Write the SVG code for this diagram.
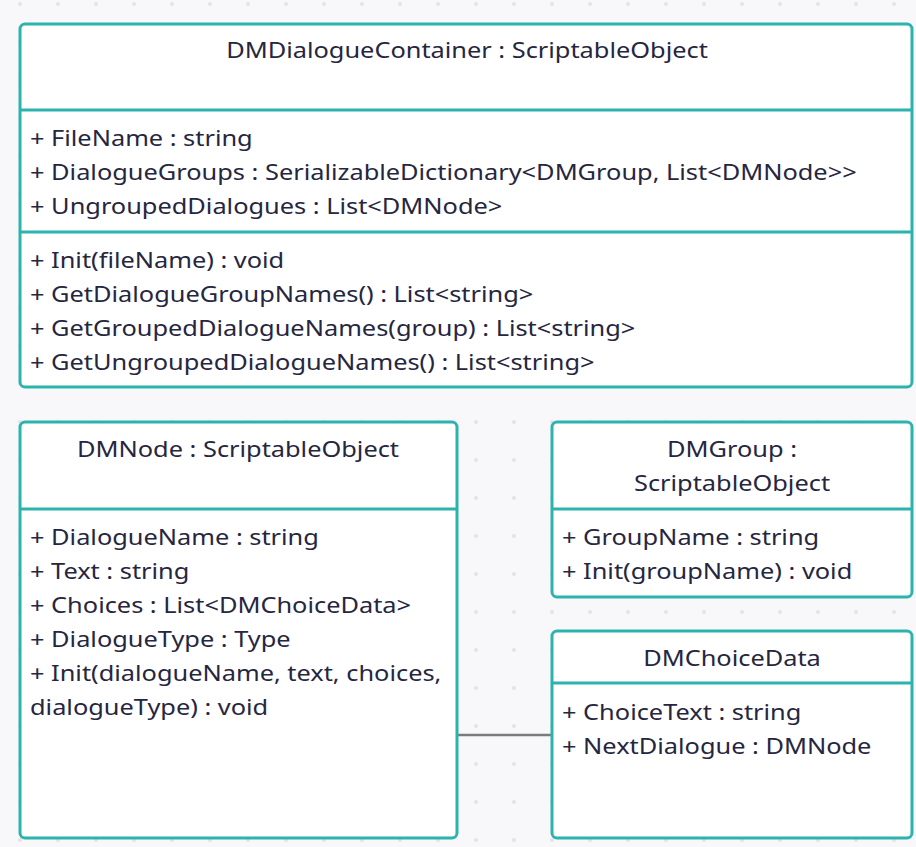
<svg xmlns="http://www.w3.org/2000/svg" width="916" height="847" viewBox="0 0 916 847">
  <style>
    .box { fill: #ffffff; stroke: #2db3ad; stroke-width: 3; }
    .sep { stroke: #2db3ad; stroke-width: 3; }
    .t { font-family: "Noto Sans", "Open Sans", sans-serif; font-size: 21.5px; fill: #26263f; }
    .c { text-anchor: middle; }
    .link { stroke: #7b7b7b; stroke-width: 2.5; fill: none; }
  </style>
  <defs>
    <pattern id="dots" x="20" y="4" width="38" height="38" patternUnits="userSpaceOnUse">
      <circle cx="0" cy="0" r="2" fill="#e3e3e8"/>
      <circle cx="38" cy="0" r="2" fill="#e3e3e8"/>
      <circle cx="0" cy="38" r="2" fill="#e3e3e8"/>
      <circle cx="38" cy="38" r="2" fill="#e3e3e8"/>
    </pattern>
  </defs>

  <!-- canvas -->
  <rect x="0" y="0" width="916" height="847" fill="#f8f8fa"/>
  <rect x="0" y="0" width="916" height="847" fill="url(#dots)"/>

  <!-- connectors -->
  <g id="connectors">
    <line class="link" x1="457" y1="735" x2="552" y2="735"/>
  </g>

  <!-- DMDialogueContainer (labels use a wide 1.18 horizontal scale) -->
  <g id="DMDialogueContainer">
    <rect class="box" x="20" y="24" width="892" height="363" rx="5"/>
    <line class="sep" x1="20" y1="110" x2="912" y2="110"/>
    <line class="sep" x1="20" y1="232" x2="912" y2="232"/>
    <text class="t c" transform="translate(467 58) scale(1.18 1)">DMDialogueContainer : ScriptableObject</text>
    <text class="t" transform="translate(30 146) scale(1.18 1)">+ FileName : string</text>
    <text class="t" transform="translate(30 180) scale(1.18 1)">+ DialogueGroups : SerializableDictionary&lt;DMGroup, List&lt;DMNode&gt;&gt;</text>
    <text class="t" transform="translate(30 214) scale(1.18 1)">+ UngroupedDialogues : List&lt;DMNode&gt;</text>
    <text class="t" transform="translate(30 268) scale(1.18 1)">+ Init(fileName) : void</text>
    <text class="t" transform="translate(30 302) scale(1.18 1)">+ GetDialogueGroupNames() : List&lt;string&gt;</text>
    <text class="t" transform="translate(30 336) scale(1.18 1)">+ GetGroupedDialogueNames(group) : List&lt;string&gt;</text>
    <text class="t" transform="translate(30 370) scale(1.18 1)">+ GetUngroupedDialogueNames() : List&lt;string&gt;</text>
  </g>

  <!-- DMNode -->
  <g id="DMNode">
    <rect class="box" x="20" y="422" width="437" height="416" rx="5"/>
    <line class="sep" x1="20" y1="509" x2="457" y2="509"/>
    <text class="t c" transform="translate(238 457) scale(1.18 1)">DMNode : ScriptableObject</text>
    <text class="t" transform="translate(30 545) scale(1.18 1)">+ DialogueName : string</text>
    <text class="t" transform="translate(30 579) scale(1.18 1)">+ Text : string</text>
    <text class="t" transform="translate(30 613) scale(1.18 1)">+ Choices : List&lt;DMChoiceData&gt;</text>
    <text class="t" transform="translate(30 647) scale(1.18 1)">+ DialogueType : Type</text>
    <text class="t" transform="translate(30 681) scale(1.18 1)">+ Init(dialogueName, text, choices,</text>
    <text class="t" transform="translate(30 715) scale(1.18 1)">dialogueType) : void</text>
  </g>

  <!-- DMGroup -->
  <g id="DMGroup">
    <rect class="box" x="552" y="422" width="360" height="175" rx="5"/>
    <line class="sep" x1="552" y1="509" x2="912" y2="509"/>
    <text class="t c" transform="translate(732 457) scale(1.18 1)">DMGroup :</text>
    <text class="t c" transform="translate(732 491) scale(1.18 1)">ScriptableObject</text>
    <text class="t" transform="translate(562 545) scale(1.18 1)">+ GroupName : string</text>
    <text class="t" transform="translate(562 579) scale(1.18 1)">+ Init(groupName) : void</text>
  </g>

  <!-- DMChoiceData -->
  <g id="DMChoiceData">
    <rect class="box" x="552" y="631" width="360" height="207" rx="5"/>
    <line class="sep" x1="552" y1="683" x2="912" y2="683"/>
    <text class="t c" transform="translate(732 666) scale(1.18 1)">DMChoiceData</text>
    <text class="t" transform="translate(562 720) scale(1.18 1)">+ ChoiceText : string</text>
    <text class="t" transform="translate(562 754) scale(1.18 1)">+ NextDialogue : DMNode</text>
  </g>
</svg>
